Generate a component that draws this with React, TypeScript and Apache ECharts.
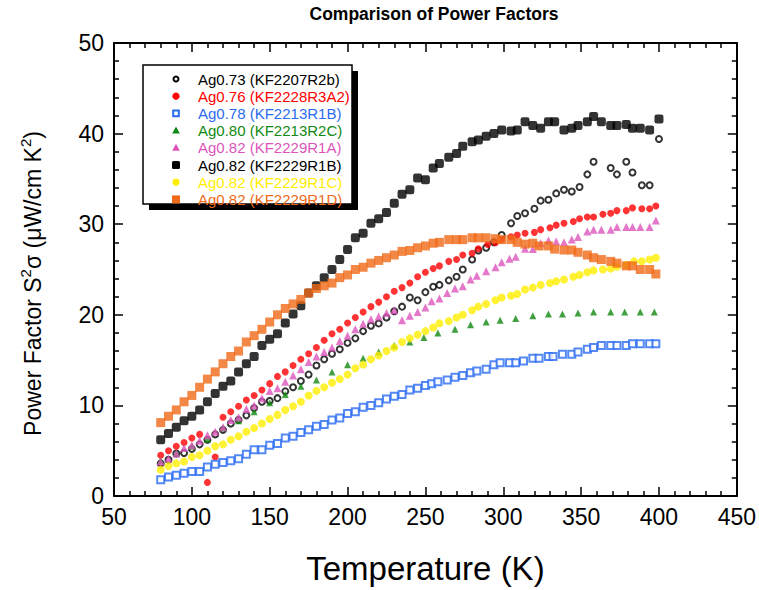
import React, { useEffect, useRef } from "react";
import * as echarts from "echarts";

// ---- Data (temperature in K, power factor in µW/cm K²) ----
const tR2b = [80,85,90,95,100,105,110,115,120,125,130,135,140,145,150,155,160,165,170,175,180,185,190,195,200,205,210,215,220,225,230,235,240,245,250,255,259,265,270,274,280,284,289,294,299,305,309,314,320,324,329,334,339,344,349,354,358,369,373,379,383,389,394,400];
const pfR2b = [3.6,4.0,4.7,4.75,5.2,5.7,6.2,6.8,7.3,8.0,8.4,8.9,9.7,10.4,10.5,10.8,11.55,12.0,12.7,13.4,14.4,15.1,15.7,16.2,16.9,17.4,18.2,18.8,19.05,19.7,20.4,20.9,21.9,21.6,22.5,23.1,23.3,23.8,24.2,25.0,26.1,27.1,27.4,28.0,28.8,30.1,30.9,31.2,31.7,32.6,32.7,33.4,33.8,33.6,34.1,35.5,36.9,36.2,35.5,36.9,35.7,34.3,34.3,39.4];

const tR3A2 = [80,85,90,95,100,105,110,115,120,125,130,135,140,145,150,155,160,165,170,175,180,185,190,195,200,205,210,215,220,225,230,235,240,245,250,255,259,265,270,274,280,284,290,295,299,305,309,314,320,324,330,334,339,345,349,354,358,364,369,373,379,383,389,394,398];
const pfR3A2 = [4.5,5.0,5.5,5.9,6.4,6.8,1.5,4.3,8.7,9.3,9.9,10.6,11.1,11.7,12.4,13.2,13.7,14.4,15.1,15.7,16.4,17.2,17.9,18.4,19.1,19.7,20.3,20.9,21.4,22.0,22.6,23.0,23.5,24.2,24.7,25.1,25.4,25.9,26.1,26.6,26.8,27.3,27.75,27.95,28.3,28.6,28.8,29.0,29.1,29.4,29.6,29.9,30.1,30.3,30.6,30.8,30.8,31.1,31.2,31.5,31.5,31.8,31.7,31.7,32.0];

const tR1B78 = [80,85,90,95,100,105,110,115,120,125,130,135,140,145,150,155,160,165,170,175,180,185,190,195,200,205,210,215,220,225,230,235,240,245,250,254,258,264,269,274,279,283,289,294,298,304,308,313,319,323,329,332,338,344,348,354,358,363,369,373,379,383,388,394,398];
const pfR1B78 = [1.8,2.1,2.3,2.5,2.7,2.7,3.2,3.5,3.7,3.9,4.1,4.6,5.1,5.1,5.6,5.8,6.4,6.6,7.0,7.3,7.7,7.9,8.4,8.6,9.1,9.3,9.8,10.0,10.3,10.7,11.0,11.2,11.7,11.9,12.2,12.4,12.6,12.8,13.1,13.3,13.6,13.8,14.0,14.5,14.7,14.7,14.7,14.9,15.2,15.2,15.4,15.4,15.65,15.65,15.9,16.2,16.4,16.6,16.6,16.6,16.6,16.8,16.8,16.8,16.8];

const tR2C = [80,90,100,110,120,130,140,150,160,170,180,190,200,210,220,230,240,249,258,269,279,289,298,308,319,329,338,348,358,369,378,388,397];
const pfR2C = [3.9,4.7,5.5,6.3,7.5,8.3,9.3,10.3,11.2,12.1,12.8,13.7,14.5,15.2,15.9,16.6,17.0,17.5,18.0,18.4,18.9,19.2,19.4,19.6,19.9,20.1,20.1,20.2,20.3,20.3,20.3,20.3,20.3];

const tR1A = [80,85,90,95,100,105,110,115,120,125,130,135,140,145,150,155,160,165,170,175,180,185,190,195,200,205,210,215,220,225,230,235,240,245,250,254,259,264,269,274,279,283,289,295,299,304,308,314,319,324,329,334,339,344,348,354,358,363,369,373,379,383,388,394,398];
const pfR1A = [3.8,4.1,4.7,5.3,5.6,6.1,6.7,7.1,7.6,8.4,8.7,9.6,10.0,10.8,11.6,11.9,12.6,13.3,14.0,14.8,15.4,15.9,16.4,17.1,17.7,18.4,19.0,19.5,19.8,20.2,20.5,19.4,19.9,20.3,20.8,21.5,21.8,22.4,22.9,23.15,23.9,24.3,24.8,25.25,25.8,26.2,26.4,27.3,27.25,27.9,28.2,28.1,28.0,28.3,28.6,29.2,29.4,29.4,29.4,29.7,29.7,29.7,29.7,29.7,30.4];

const tR1B82 = [80,85,90,95,100,105,110,115,120,125,130,135,140,145,150,155,160,165,170,175,180,185,190,195,200,205,210,215,220,225,230,235,240,245,250,255,259,265,270,274,280,284,289,294,299,305,309,314,319,324,329,333,339,344,348,354,358,363,369,373,379,383,388,394,400];
const pfR1B82 = [6.2,6.9,7.6,8.3,8.8,9.5,10.4,11.3,12.1,12.7,13.7,14.6,15.4,16.6,17.3,17.9,19.1,20.1,21.0,22.4,23.2,24.1,25.0,26.1,27.2,28.5,29.0,30.1,30.6,31.3,32.3,33.3,33.8,35.1,34.9,36.2,36.7,37.4,37.8,38.6,39.1,39.3,39.7,40.0,40.4,40.3,40.4,41.3,40.9,40.6,41.3,41.3,40.4,40.6,40.9,41.3,41.9,41.3,40.9,40.9,41.0,40.6,40.6,40.4,41.6];

const tR1C = [80,85,90,95,100,105,110,115,120,125,130,135,140,145,150,155,160,165,170,175,180,185,190,195,200,205,210,215,220,225,230,235,240,245,250,255,259,265,270,274,280,284,289,295,299,305,309,314,319,324,330,334,339,345,349,354,358,364,369,373,379,384,389,394,398];
const pfR1C = [2.9,3.3,3.6,3.8,4.3,4.5,5.0,5.5,5.7,6.2,6.6,7.1,7.5,8.0,8.5,8.95,9.5,9.9,10.4,11.1,11.6,12.0,12.5,12.9,13.4,14.1,14.5,15.1,15.5,16.0,16.4,17.0,17.4,17.8,18.2,18.6,19.05,19.3,19.7,20.0,20.5,20.9,21.2,21.6,21.9,22.1,22.3,22.8,23.0,23.3,23.5,23.7,23.9,24.2,24.4,24.7,24.9,25.0,25.1,25.3,25.5,25.9,25.9,26.1,26.3];

const tR1D = [80,85,90,95,100,105,110,115,120,125,130,135,140,145,150,155,160,165,170,175,180,185,190,195,200,205,210,215,220,225,230,235,240,245,250,255,259,265,270,274,280,284,289,295,299,305,309,314,319,323,329,333,339,344,348,354,358,363,369,373,379,383,388,394,398];
const pfR1D = [8.1,8.8,9.5,10.4,11.1,12.0,12.9,13.7,14.6,15.4,16.0,17.0,17.7,18.4,19.2,20.0,20.7,21.2,21.7,22.4,22.9,23.2,23.5,24.1,24.4,25.0,25.25,25.7,26.0,26.3,26.6,27.0,27.1,27.4,27.6,27.9,28.0,28.3,28.3,28.3,28.5,28.5,28.5,28.4,28.3,28.3,28.0,27.8,27.9,27.6,27.6,27.25,27.15,27.15,26.9,26.6,26.3,26.1,25.9,25.7,25.4,25.4,25.0,25.0,24.5];

const seriesNames = [
  "Ag0.73 (KF2207R2b)",
  "Ag0.76 (KF2228R3A2)",
  "Ag0.78 (KF2213R1B)",
  "Ag0.80 (KF2213R2C)",
  "Ag0.82 (KF2229R1A)",
  "Ag0.82 (KF2229R1B)",
  "Ag0.82 (KF2229R1C)",
  "Ag0.82 (KF2229R1D)",
];
const seriesTemps = [tR2b, tR3A2, tR1B78, tR2C, tR1A, tR1B82, tR1C, tR1D];
const seriesValues = [pfR2b, pfR3A2, pfR1B78, pfR2C, pfR1A, pfR1B82, pfR1C, pfR1D];

const xTicks = { min: 50, max: 450, step: 50 };
const yTicks = { min: 0, max: 50, step: 10 };

// ---- Styles ----
const colors = ["#000000", "#ff0000", "#2a6cf2", "#128a12", "#dd55bb", "#000000", "#ffee00", "#f06a18"];
const symbols = ["emptyCircle", "circle", "emptyRect", "triangle", "triangle", "roundRect", "circle", "rect"];
const symbolSizes = [6, 7, 7, 7, 8, 9, 8, 9];
const FONT = "'Liberation Sans', Arial, sans-serif";

function legendSymbol(i: number, cx: number, cy: number) {
  const c = colors[i];
  switch (symbols[i]) {
    case "emptyCircle":
      return { type: "circle", shape: { cx, cy, r: 2.5 }, style: { fill: "#fff", stroke: c, lineWidth: 2 } };
    case "circle":
      return { type: "circle", shape: { cx, cy, r: 3.6 }, style: { fill: c } };
    case "emptyRect":
      return { type: "rect", shape: { x: cx - 2.8, y: cy - 2.8, width: 5.6, height: 5.6 }, style: { fill: "#fff", stroke: c, lineWidth: 2 } };
    case "triangle":
      return { type: "polygon", shape: { points: [[cx, cy - 4], [cx + 3.8, cy + 3], [cx - 3.8, cy + 3]] }, style: { fill: c } };
    case "roundRect":
      return { type: "rect", shape: { x: cx - 4, y: cy - 4, width: 8, height: 8, r: 1.5 }, style: { fill: c } };
    default:
      return { type: "rect", shape: { x: cx - 4, y: cy - 4, width: 8, height: 8 }, style: { fill: c } };
  }
}

export default function App() {
  const ref = useRef<HTMLDivElement>(null);
  useEffect(() => {
    if (!ref.current) return;
    const chart = echarts.init(ref.current, null, { renderer: "svg" });

    const legendX = 143, legendY = 65, legendW = 209, legendH = 139;
    const graphics: any[] = [
      { type: "rect", z: 100, shape: { x: legendX + 6, y: legendY + 6, width: legendW, height: legendH }, style: { fill: "#000" } },
      { type: "rect", z: 101, shape: { x: legendX, y: legendY, width: legendW, height: legendH }, style: { fill: "#fff", stroke: "#000", lineWidth: 1.5 } },
    ];
    seriesNames.forEach((name, i) => {
      const cy = 79 + i * 17.2;
      graphics.push({ ...legendSymbol(i, 176, cy), z: 102 });
      graphics.push({
        type: "text", z: 102, x: 198, y: cy,
        style: { text: name, fill: colors[i], font: `15px 'Liberation Sans', Arial, sans-serif`, textVerticalAlign: "middle", textAlign: "left" },
      });
    });

    const axisTick = { show: true, inside: true, length: 9, lineStyle: { color: "#000", width: 1.5 } };
    const minorTick = { show: true, splitNumber: 5, length: 5, lineStyle: { color: "#000", width: 1.5 } };
    const axisLine = { show: true, onZero: false, lineStyle: { color: "#000", width: 2 } };

    chart.setOption({
      animation: false,
      backgroundColor: "#fff",
      title: {
        text: "Comparison of Power Factors",
        left: 429, top: 0, textAlign: "center",
        textStyle: { fontFamily: FONT, fontWeight: "bold", fontSize: 17.5, color: "#000" },
      },
      grid: { left: 114, right: 17, top: 43, bottom: 85, containLabel: false },
      xAxis: [
        {
          type: "value", min: xTicks.min, max: xTicks.max, interval: xTicks.step, position: "bottom",
          name: "Temperature (K)", nameLocation: "middle", nameGap: 56,
          nameTextStyle: { fontFamily: FONT, fontSize: 33, color: "#000" },
          axisLine, axisTick, minorTick, splitLine: { show: false },
          axisLabel: { fontFamily: FONT, fontSize: 23, color: "#000", margin: 9 },
        },
        {
          type: "value", min: xTicks.min, max: xTicks.max, interval: xTicks.step, position: "top",
          axisLine, axisTick, minorTick, splitLine: { show: false }, axisLabel: { show: false },
        },
      ],
      yAxis: [
        {
          type: "value", min: yTicks.min, max: yTicks.max, interval: yTicks.step, position: "left",
          name: "Power Factor S{sup|2}σ (μW/cm K{sup|2})", nameLocation: "middle", nameGap: 66, nameRotate: 90,
          nameTextStyle: {
            fontFamily: FONT, fontSize: 23, color: "#000", lineHeight: 30, padding: [0, 28, 0, 0],
            rich: { sup: { fontFamily: FONT, fontSize: 15, color: "#000", verticalAlign: "top", lineHeight: 30 } },
          },
          axisLine, axisTick, minorTick, splitLine: { show: false },
          axisLabel: { fontFamily: FONT, fontSize: 23, color: "#000", margin: 10 },
        },
        {
          type: "value", min: yTicks.min, max: yTicks.max, interval: yTicks.step, position: "right",
          axisLine, axisTick, minorTick, splitLine: { show: false }, axisLabel: { show: false },
        },
      ],
      graphic: graphics,
      series: seriesNames.map((name, i) => ({
        name,
        type: "scatter",
        xAxisIndex: 0,
        yAxisIndex: 0,
        symbol: symbols[i],
        symbolSize: symbolSizes[i],
        itemStyle: symbols[i].startsWith("empty")
          ? { color: colors[i], borderColor: colors[i], borderWidth: 2.2 }
          : { color: colors[i] },
        data: seriesTemps[i].map((t, k) => [t, seriesValues[i][k]]),
        z: 2 + i,
      })),
    });
    return () => chart.dispose();
  }, []);
  return <div ref={ref} style={{ position: "fixed", left: 0, top: 0, width: 759, height: 590 }} />;
}
